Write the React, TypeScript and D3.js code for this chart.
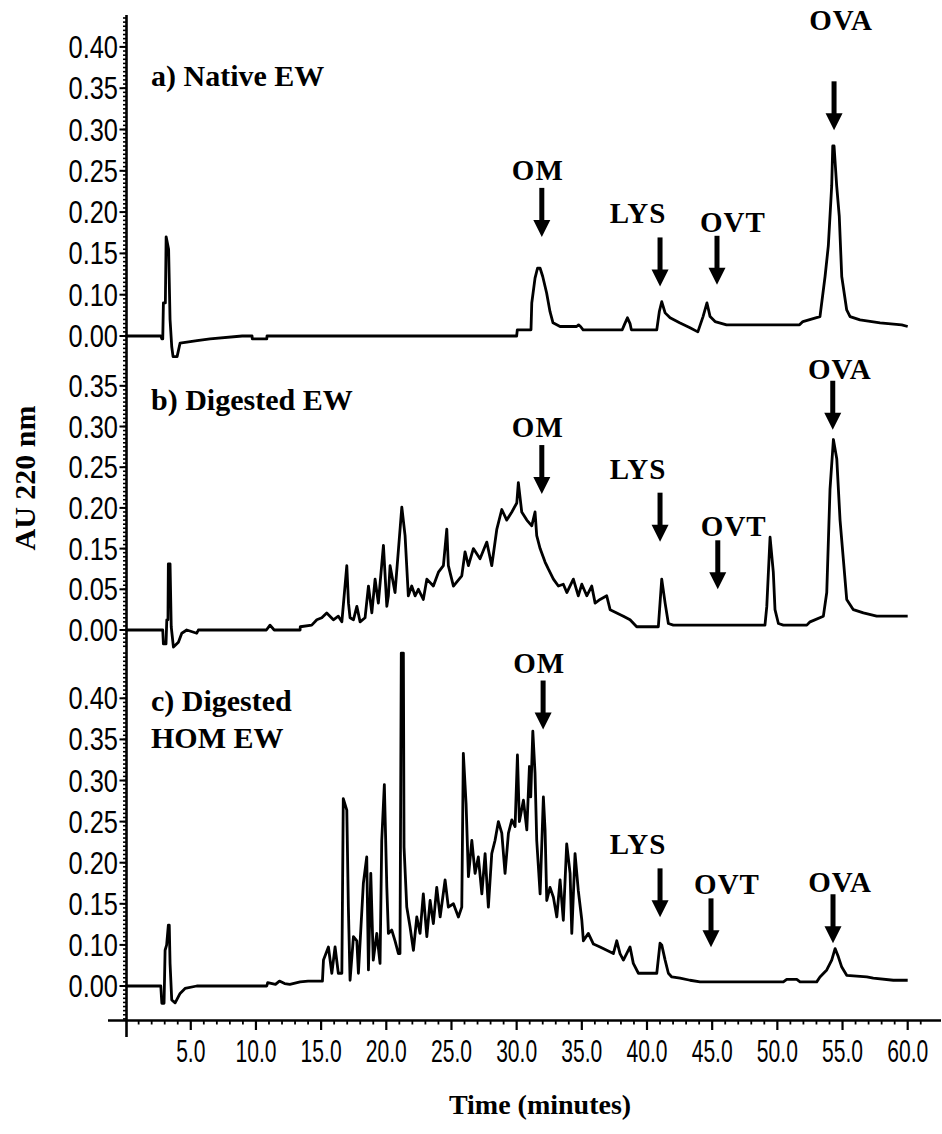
import React from "react";
import * as d3 from "d3";

// time axis (minutes)
const timeTicks = [5, 10, 15, 20, 25, 30, 35, 40, 45, 50, 55, 60];

// tick labels of each panel, bottom to top (as printed on the original figure)
const ticksA = [0.0, 0.1, 0.15, 0.2, 0.25, 0.3, 0.35, 0.4];
const ticksB = [0.0, 0.05, 0.15, 0.2, 0.25, 0.3, 0.35];
const ticksC = [0.0, 0.1, 0.15, 0.2, 0.25, 0.3, 0.35, 0.4];

const titleA = ["a) Native EW"];
const titleB = ["b) Digested EW"];
const titleC = ["c) Digested", "HOM EW"];

// [time (min), AU 220 nm]
const traceA: [number, number][] = [
  [0, 0], [2.7, 0], [2.78, -0.007], [2.85, -0.007], [2.9, 0.08], [3.05, 0.08], [3.11, 0.17], [3.3, 0.155],
  [3.41, 0.04], [3.54, -0.026], [3.64, -0.05], [3.95, -0.05], [4.18, -0.017], [5.48, -0.011], [6.48, -0.007],
  [8.94, 0], [9.7, 0], [9.72, -0.007], [10.83, -0.007], [10.85, 0], [30.0, 0], [30.05, 0.015], [31.1, 0.015],
  [31.16, 0.08], [31.41, 0.12], [31.6, 0.132], [31.8, 0.132], [32.0, 0.122], [32.3, 0.102], [32.56, 0.059],
  [32.79, 0.032], [33.33, 0.023], [34.6, 0.023], [34.75, 0.027], [34.9, 0.023], [35.1, 0.015], [38.1, 0.015],
  [38.3, 0.03], [38.5, 0.044], [38.7, 0.03], [38.8, 0.015], [40.75, 0.015], [40.95, 0.06], [41.13, 0.083],
  [41.39, 0.056], [41.77, 0.044], [42.5, 0.032], [43.3, 0.02], [43.9, 0.01], [44.3, 0.047], [44.6, 0.08],
  [44.84, 0.047], [45.22, 0.035], [46.1, 0.027], [51.7, 0.027], [51.96, 0.035], [53.27, 0.047], [53.66, 0.122],
  [53.91, 0.159], [54.17, 0.232], [54.25, 0.28], [54.35, 0.28], [54.55, 0.232], [54.75, 0.195], [54.94, 0.122],
  [55.32, 0.063], [55.58, 0.047], [56.34, 0.039], [57.24, 0.035], [57.88, 0.032], [59.54, 0.027], [60.0, 0.023],
];

const traceB: [number, number][] = [
  [0, 0], [2.85, 0], [2.9, -0.017], [3.1, -0.017], [3.16, 0.0125], [3.25, 0.0125], [3.28, 0.1125], [3.41, 0.1125],
  [3.5, 0.004], [3.67, -0.021], [4.05, -0.015], [4.31, -0.004], [4.69, 0], [5.46, -0.004], [5.58, 0], [10.8, 0],
  [11.08, 0.006], [11.4, 0], [13.39, 0], [13.4, 0.004], [14.28, 0.006], [14.67, 0.0125], [15.05, 0.015],
  [15.43, 0.021], [15.94, 0.0125], [16.32, 0.017], [16.59, 0.01], [16.97, 0.108], [17.1, 0.033], [17.22, 0.015],
  [17.48, 0.0125], [17.74, 0.029], [17.99, 0.01], [18.37, 0.015], [18.63, 0.058], [18.89, 0.021], [19.14, 0.075],
  [19.39, 0.033], [19.78, 0.154], [20.04, 0.029], [20.16, 0.042], [20.29, 0.108], [20.67, 0.046], [21.19, 0.201],
  [21.44, 0.166], [21.69, 0.042], [21.95, 0.058], [22.21, 0.042], [22.46, 0.05], [22.84, 0.0375], [23.11, 0.075],
  [23.61, 0.058], [24.0, 0.092], [24.38, 0.108], [24.64, 0.174], [24.76, 0.108], [25.15, 0.058], [25.79, 0.083],
  [26.04, 0.142], [26.3, 0.108], [26.68, 0.15], [27.19, 0.125], [27.71, 0.158], [28.09, 0.108], [28.48, 0.174],
  [28.86, 0.198], [29.24, 0.185], [29.63, 0.195], [30.01, 0.206], [30.13, 0.231], [30.39, 0.195], [30.78, 0.185],
  [31.16, 0.178], [31.41, 0.195], [31.54, 0.166], [31.8, 0.15], [32.18, 0.117], [32.43, 0.1], [32.82, 0.075],
  [33.2, 0.058], [33.58, 0.0625], [33.85, 0.046], [34.35, 0.075], [34.73, 0.042], [35.0, 0.0625], [35.38, 0.042],
  [35.76, 0.058], [36.02, 0.033], [36.4, 0.0375], [36.91, 0.042], [37.17, 0.025], [37.68, 0.021], [38.19, 0.017],
  [38.7, 0.0125], [39.21, 0.004], [40.87, 0.004], [41.13, 0.075], [41.39, 0.033], [41.64, 0.008], [42.02, 0.006],
  [49.05, 0.006], [49.19, 0.029], [49.44, 0.164], [49.69, 0.092], [49.82, 0.025], [50.08, 0.008], [50.46, 0.006],
  [52.26, 0.006], [52.51, 0.01], [53.53, 0.017], [53.79, 0.046], [54.04, 0.223], [54.3, 0.284], [54.56, 0.26],
  [54.81, 0.185], [55.06, 0.125], [55.32, 0.0375], [55.83, 0.025], [56.6, 0.021], [57.62, 0.017], [60.0, 0.017],
];

const traceC: [number, number][] = [
  [0, 0], [2.7, 0], [2.78, -0.042], [2.95, -0.042], [3.03, 0.087], [3.15, 0.1], [3.28, 0.124], [3.35, 0.124],
  [3.41, 0.055], [3.54, -0.034], [3.8, -0.041], [4.18, -0.018], [4.56, -0.006], [5.46, 0], [10.83, 0],
  [10.9, 0.008], [11.5, 0.004], [11.8, 0.012], [12.2, 0.006], [12.6, 0.004], [13.39, 0.01], [14.0, 0.012],
  [15.1, 0.012], [15.18, 0.063], [15.56, 0.095], [15.82, 0.031], [16.07, 0.095], [16.32, 0.031], [16.59, 0.031],
  [16.7, 0.278], [16.97, 0.264], [17.09, 0.146], [17.22, 0.014], [17.48, 0.11], [17.74, 0.105], [17.86, 0.031],
  [18.24, 0.175], [18.5, 0.207], [18.63, 0.039], [18.81, 0.187], [19.0, 0.063], [19.27, 0.114], [19.52, 0.055],
  [19.65, 0.227], [19.85, 0.295], [20.04, 0.17], [20.16, 0.114], [20.42, 0.118], [20.67, 0.105], [20.93, 0.079],
  [21.05, 0.079], [21.15, 0.455], [21.31, 0.455], [21.36, 0.219], [21.57, 0.146], [21.82, 0.122], [22.08, 0.087],
  [22.34, 0.134], [22.59, 0.114], [22.84, 0.162], [23.11, 0.11], [23.36, 0.154], [23.61, 0.126], [23.87, 0.17],
  [24.13, 0.134], [24.51, 0.179], [24.76, 0.146], [25.15, 0.15], [25.53, 0.134], [25.79, 0.146], [25.91, 0.333],
  [26.12, 0.272], [26.3, 0.183], [26.56, 0.227], [26.81, 0.187], [27.06, 0.207], [27.33, 0.162], [27.58, 0.211],
  [27.83, 0.146], [28.09, 0.211], [28.34, 0.227], [28.6, 0.25], [28.86, 0.236], [29.11, 0.187], [29.37, 0.236],
  [29.63, 0.252], [29.88, 0.244], [30.06, 0.331], [30.21, 0.25], [30.52, 0.276], [30.78, 0.24], [30.98, 0.317],
  [31.08, 0.28], [31.24, 0.36], [31.41, 0.309], [31.54, 0.227], [31.8, 0.162], [32.05, 0.28], [32.18, 0.24],
  [32.31, 0.154], [32.56, 0.17], [32.82, 0.158], [33.08, 0.134], [33.33, 0.179], [33.58, 0.13], [33.84, 0.223],
  [34.1, 0.187], [34.23, 0.114], [34.48, 0.211], [34.73, 0.166], [35.0, 0.13], [35.12, 0.105], [35.5, 0.114],
  [35.89, 0.101], [36.4, 0.095], [36.91, 0.087], [37.42, 0.079], [37.68, 0.105], [37.93, 0.079], [38.19, 0.063],
  [38.7, 0.095], [38.95, 0.055], [39.34, 0.031], [40.75, 0.031], [41.0, 0.102], [41.13, 0.1], [41.39, 0.063],
  [41.64, 0.031], [41.9, 0.022], [42.54, 0.019], [43.3, 0.014], [44.07, 0.01], [47.14, 0.01], [50.46, 0.01],
  [50.72, 0.016], [51.49, 0.016], [51.74, 0.01], [53.02, 0.01], [53.27, 0.022], [53.79, 0.039], [54.17, 0.063],
  [54.43, 0.091], [54.68, 0.071], [54.94, 0.046], [55.32, 0.026], [56.86, 0.022], [57.36, 0.019], [58.9, 0.014],
  [60.0, 0.014],
];

// peak markers: label, retention time, value the arrow points at
const peaksA = [
  { label: "OM", t: 31.93, tip: 0.17 },
  { label: "LYS", t: 41.0, tip: 0.11 },
  { label: "OVT", t: 45.37, tip: 0.112 },
  { label: "OVA", t: 54.35, tip: 0.299 },
];
const peaksB = [
  { label: "OM", t: 31.93, tip: 0.217 },
  { label: "LYS", t: 41.0, tip: 0.1585 },
  { label: "OVT", t: 45.43, tip: 0.05 },
  { label: "OVA", t: 54.25, tip: 0.296 },
];
const peaksC = [
  { label: "OM", t: 32.03, tip: 0.362 },
  { label: "LYS", t: 41.0, tip: 0.1335 },
  { label: "OVT", t: 44.91, tip: 0.094 },
  { label: "OVA", t: 54.27, tip: 0.102 },
];

const W = 942;
const H = 1134;
const AXIS_X = 126.5;
const AXIS_Y = 1020.5;
const SERIF = "'Liberation Serif', 'Times New Roman', serif";
const SANS = "'Liberation Sans', Arial, sans-serif";

// label placement relative to the arrow
const nudge: Record<string, { dx: number; gap: number }> = {
  OM: { dx: -4, gap: 8 },
  LYS: { dx: -22, gap: 14 },
  OVT: { dx: 16, gap: 4 },
  OVA: { dx: 7, gap: 2 },
};

const x = d3.scaleLinear().domain([0, 60]).range([125.6, 907.7]);

// each panel: printed labels evenly spaced, so the scale is piecewise
const makeY = (ticks: number[], base: number, step: number) =>
  d3.scaleLinear().domain(ticks).range(ticks.map((_, i) => base - i * step));

const panels = [
  {
    ticks: ticksA, y: makeY(ticksA, 336, 41.3), step: 41.3, band: [15, 362],
    trace: traceA, peaks: peaksA, title: titleA, titleY: 86,
    textY: { OVA: 30 } as Record<string, number>,
  },
  {
    ticks: ticksB, y: makeY(ticksB, 630, 40.7), step: 40.7, band: [362, 650],
    trace: traceB, peaks: peaksB, title: titleB, titleY: 410,
    textY: {} as Record<string, number>,
  },
  {
    ticks: ticksC, y: makeY(ticksC, 986, 41.1), step: 41.1, band: [650, 1020],
    trace: traceC, peaks: peaksC, title: titleC, titleY: 711,
    textY: {} as Record<string, number>,
  },
];

const Arrow = ({ cx, tip, len }: { cx: number; tip: number; len: number }) => {
  const head = 17;
  const hw = 8.5;
  return (
    <g fill="#000">
      <rect x={cx - 2.5} y={tip - len} width={5} height={len - head + 1} />
      <path d={`M${cx - hw},${tip - head}L${cx + hw},${tip - head}L${cx},${tip}Z`} />
    </g>
  );
};

export default function App() {
  const minorX = d3.range(1, 62).filter((m) => m % 5 !== 0);

  return (
    <div style={{ position: "absolute", left: 0, top: 0 }}>
      <svg width={W} height={H} viewBox={`0 0 ${W} ${H}`} style={{ display: "block", background: "#fff" }}>
        <rect width={W} height={H} fill="#fff" />

        {panels.map((p, pi) => {
          const line = d3
            .line<[number, number]>()
            .x((d) => x(d[0]))
            .y((d) => p.y(d[1]));
          const base = p.y(0);
          const minor = d3
            .range(-60, 120)
            .map((k) => base - (k * p.step) / 10)
            .filter((v) => v >= p.band[0] && v < p.band[1]);
          return (
            <g key={pi}>
              {/* minor y ticks */}
              {minor.map((v, i) => (
                <line key={i} x1={AXIS_X - 3.5} x2={AXIS_X} y1={v} y2={v} stroke="#000" strokeWidth={1.6} />
              ))}
              {/* major y ticks and labels */}
              {p.ticks.map((t) => (
                <g key={t} transform={`translate(0,${p.y(t)})`}>
                  <line x1={AXIS_X - 7} x2={AXIS_X} stroke="#000" strokeWidth={2} />
                  <text
                    transform="translate(118,11) scale(0.82,1)"
                    textAnchor="end"
                    fontFamily={SANS}
                    fontSize={31}
                    fill="#000"
                  >
                    {t.toFixed(2)}
                  </text>
                </g>
              ))}

              <path d={line(p.trace) || ""} fill="none" stroke="#000" strokeWidth={2.8} strokeLinejoin="round" />

              {p.title.map((s, i) => (
                <text
                  key={i}
                  x={151}
                  y={p.titleY + i * 37}
                  fontFamily={SERIF}
                  fontWeight="bold"
                  fontSize={30}
                  fill="#000"
                >
                  {s}
                </text>
              ))}

              {p.peaks.map((pk) => {
                const cx = x(pk.t);
                const tipY = p.y(pk.tip);
                const len = 49;
                const n = nudge[pk.label];
                const ty = p.textY[pk.label] ?? tipY - len - n.gap;
                return (
                  <g key={pk.label}>
                    <Arrow cx={cx} tip={tipY} len={len} />
                    <text
                      x={cx + n.dx}
                      y={ty}
                      textAnchor="middle"
                      fontFamily={SERIF}
                      fontWeight="bold"
                      fontSize={29}
                      letterSpacing={1}
                      fill="#000"
                    >
                      {pk.label}
                    </text>
                  </g>
                );
              })}
            </g>
          );
        })}

        {/* axes */}
        <line x1={AXIS_X} x2={AXIS_X} y1={15} y2={1037} stroke="#000" strokeWidth={2.6} />
        <line x1={108} x2={941} y1={AXIS_Y} y2={AXIS_Y} stroke="#000" strokeWidth={2.6} />
        {minorX.map((m) => (
          <line key={m} x1={x(m)} x2={x(m)} y1={AXIS_Y} y2={AXIS_Y + 4} stroke="#000" strokeWidth={1.8} />
        ))}
        {timeTicks.map((t) => (
          <g key={t} transform={`translate(${x(t)},0)`}>
            <line y1={AXIS_Y} y2={1030} stroke="#000" strokeWidth={2.2} />
            <text
              transform="translate(0,1062) scale(0.68,1)"
              textAnchor="middle"
              fontFamily={SANS}
              fontSize={31}
              fill="#000"
            >
              {t.toFixed(1)}
            </text>
          </g>
        ))}

        <text
          x={540}
          y={1114}
          textAnchor="middle"
          fontFamily={SERIF}
          fontWeight="bold"
          fontSize={28}
          fill="#000"
        >
          Time (minutes)
        </text>
        <text
          transform="translate(35,478) rotate(-90)"
          textAnchor="middle"
          fontFamily={SERIF}
          fontWeight="bold"
          fontSize={30}
          fill="#000"
        >
          AU 220 nm
        </text>
      </svg>
    </div>
  );
}
